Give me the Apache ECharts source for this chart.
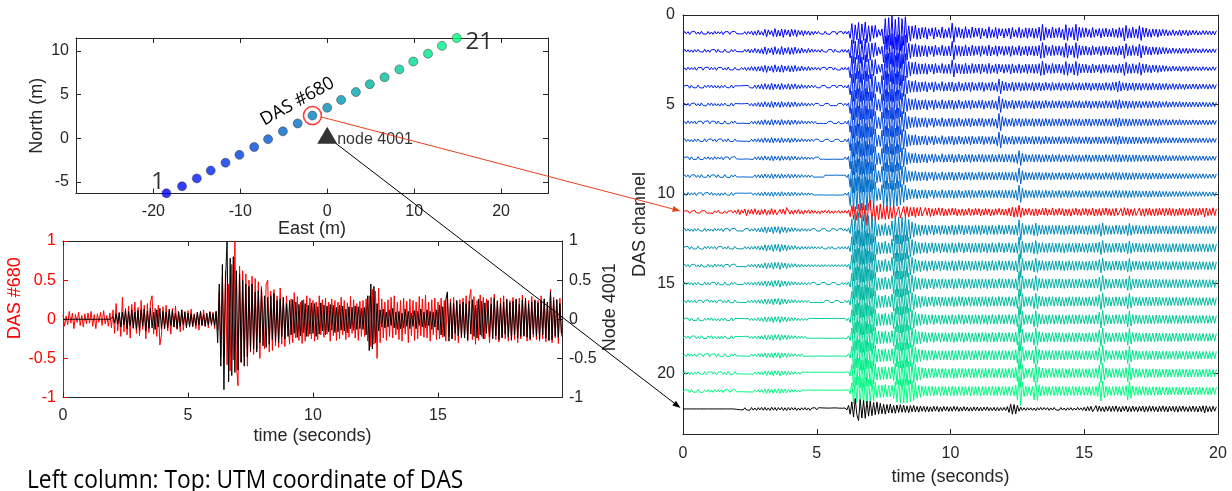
<!DOCTYPE html>
<html><head><meta charset="utf-8">
<script src="https://cdn.jsdelivr.net/npm/echarts@6/dist/echarts.min.js"></script>
<style>html,body{margin:0;padding:0;background:#fff}#c{width:1232px;height:491px}</style>
</head><body><div id="c"></div>
<script>
// ---------- data ----------
const dt = 0.0625; // seconds per sample (16 samples per second, one row per second)
const eastM  = [-18.5,-16.7,-15.0,-13.4,-11.7,-10.1,-8.4,-6.8,-5.1,-3.4,-1.7,0.0,1.6,3.3,4.9,6.6,8.3,9.9,11.6,13.2,14.9];
const northM = [-6.3,-5.5,-4.6,-3.7,-2.8,-1.9,-1.0,-0.1,0.8,1.7,2.6,3.5,4.4,5.3,6.2,7.0,7.9,8.8,9.7,10.6,11.5];
const nodeEN = [0, 0];
const eastTicks = [-20,-10,0,10,20];
const northTicks = [-5,0,5,10];
const timeTicksLeft = [0,5,10,15];
const ampTicks = [-1,-0.5,0,0.5,1];
const channelTicks = [0,5,10,15,20];
const timeTicksRight = [0,5,10,15,20];

// waveforms in hundredths (left panel: of full scale; right panel: of channel spacing)
const das680 = [
6,-9,4,-7,10,-5,8,-12,6,-4,9,-8,5,-10,7,-6,
8,-5,10,-9,6,-12,7,-4,9,-8,11,-6,5,-9,8,-11,
12,-18,20,-15,9,-22,28,-16,14,-20,17,-24,19,-12,22,-18,
15,-21,24,-13,18,-25,20,-17,22,30,-19,14,-22,18,-33,-20,
16,-12,18,-15,11,-19,14,-10,17,-13,9,-16,12,-14,10,-9,
11,-8,13,-10,7,-12,9,-14,10,-8,12,-9,6,-11,10,-8,
9,-12,10,-14,35,-48,55,-40,62,-58,45,-66,70,-52,100,-60,
-85,68,-55,62,-48,58,-60,50,-42,55,-45,52,-38,48,-50,42,
40,-38,45,50,-42,36,-40,38,-34,30,-36,40,-32,28,-35,30,
28,-32,26,-30,34,-24,29,-27,22,-31,25,-28,30,-22,27,-25,
24,-28,22,-26,30,-20,25,-23,27,-19,22,-28,26,-21,24,-27,
22,-25,28,-20,24,-26,21,-23,29,-18,25,-24,20,-27,23,-22,
24,-22,26,-28,30,-35,38,-32,36,-50,40,-30,26,-24,22,-27,
25,-22,28,-24,30,-20,22,-26,24,-28,27,-19,23,-30,26,-21,
24,-27,22,-25,29,-21,26,-23,31,-24,22,-28,25,-20,27,-26,
22,-25,27,-23,24,-28,30,-22,26,-25,28,-27,23,-30,25,-24,
27,-24,30,-28,25,38,-26,29,-32,24,-27,31,-22,28,-25,26,
25,-30,28,-24,32,-26,24,-29,27,-23,30,-25,26,-28,24,-27,
28,-26,24,-30,27,-25,31,-22,26,-28,24,-27,29,-23,25,-26,
24,-28,30,-25,26,-29,22,-27,38,-30,28,-24,25,-31,27,-22];
const node4001 = [
0,0,0,0,0,0,0,0,0,0,0,0,0,0,0,0,
0,0,0,0,0,0,0,0,0,0,0,0,0,0,0,0,
3,-5,7,-6,8,-10,9,-7,11,-12,10,-8,12,-11,9,-13,
11,-14,12,-9,13,-15,10,-12,14,-11,9,-13,12,-10,14,-12,
10,-12,9,-11,13,-8,11,-10,8,-12,10,-9,12,-7,9,-11,
8,-10,7,-9,6,-8,9,-7,10,-8,6,-9,8,-7,9,-6,
7,-8,10,-30,45,-60,70,-90,50,100,-80,78,-72,80,-68,62,
-65,58,-55,50,-60,45,-48,42,-40,45,-38,35,-42,36,-30,38,
-34,30,-36,28,-32,30,-26,33,-28,24,-30,26,-22,28,-25,20,
-22,24,-20,25,-18,22,-23,19,-21,24,-17,20,-22,18,-19,21,
-18,20,-22,16,-19,21,-15,18,-20,17,-16,19,-14,18,-17,15,
-16,18,-14,17,-15,13,-17,16,-12,15,-14,17,-13,16,-12,14,
-13,15,-20,30,-40,45,-38,42,-30,20,-15,12,-10,13,-11,9,
-10,12,-8,14,-11,9,-13,10,-12,8,-11,13,-9,10,-12,8,
-9,11,-12,10,-8,13,-10,9,-11,12,-8,10,-13,9,-10,12,
-14,18,-20,16,-22,25,35,-28,22,-25,20,-18,24,-21,19,-23,
22,-24,20,-26,23,-19,25,-22,18,-24,26,-20,23,-25,21,-18,
24,-22,19,-25,27,-21,23,-26,20,-24,22,-19,25,-23,21,-26,
23,-20,26,-24,19,-22,25,-21,27,-23,20,-25,22,-19,24,-22,
21,-25,23,-20,26,-24,22,-27,35,-26,24,-21,25,-23,20,-18];
const das01 = [
6,-8,5,-7,9,-6,4,-8,7,-5,8,-9,6,-4,7,-8,
7,-5,8,-9,6,-7,5,-8,9,-6,4,-7,8,-6,5,-9,
3,-5,6,-4,5,-7,9,-8,6,-10,12,-9,13,-15,11,-8,
14,-20,22,-17,9,-13,20,-24,21,-15,18,-22,25,-19,12,-16,
22,-20,15,-18,21,-14,10,-13,16,-12,9,-11,13,-8,10,-9,
6,-8,5,-3,7,-9,6,-4,8,-6,3,-7,9,-5,6,-8,
7,-9,6,-10,30,-52,60,-45,38,-58,62,-50,42,-60,55,-40,
48,-40,30,-42,25,-18,15,-22,60,-80,92,-85,70,-95,88,-75,
95,-88,100,-80,70,-90,55,-40,45,-38,30,-42,36,-28,34,-30,
26,-32,35,-24,18,-28,34,-30,22,-18,27,-33,30,-21,25,-29,
30,-55,52,-34,24,-30,28,-22,31,-35,26,-20,29,-33,24,-27,
20,-28,33,-26,18,-22,30,-34,27,-19,24,-30,32,-25,17,-23,
28,-24,19,-27,33,-30,22,-18,26,-31,29,-20,24,-28,30,-26,
22,-27,30,-24,28,-32,44,-48,40,-30,26,-22,29,-33,27,-24,
25,-30,27,-22,38,-46,42,-28,24,-30,40,-48,44,-32,26,-29,
24,-28,22,-19,27,-30,24,-20,18,-25,28,-24,21,-26,23,-20,
22,-26,24,-20,27,-30,24,-28,45,-42,30,-24,28,-32,26,-22,
30,-40,42,-30,24,-27,22,-20,25,-22,18,-21,24,-19,17,-20,
15,-18,16,-12,14,-17,15,-11,13,-16,17,-14,12,-15,16,-13,
12,-14,10,-13,12,-9,11,-13,10,-12,9,-11,12,-10,11,-12];
const das02 = [
5,-9,7,-6,8,-5,9,-7,6,-8,5,-6,7,-9,8,-5,
8,-6,4,-7,9,-8,6,-5,7,-9,6,-4,8,-7,5,-8,
4,-6,5,-3,6,-8,7,-9,11,-8,10,-13,12,-10,14,-12,
18,-22,20,-14,11,-17,22,-23,18,-12,20,-24,22,-16,14,-19,
20,-17,19,-21,15,-12,14,-16,11,-9,12,-13,9,-10,8,-7,
7,-6,8,-9,5,-6,8,-7,4,-6,9,-8,5,-4,7,-8,
8,-7,9,-8,40,-62,70,-55,48,-66,70,-58,50,-68,62,-45,
52,-44,35,-46,28,-20,18,-25,65,-84,95,-88,75,-96,90,-78,
92,-90,98,-82,72,-88,52,-42,42,-36,32,-40,34,-30,32,-28,
28,-30,33,-26,20,-26,32,-31,24,-20,25,-31,29,-23,27,-27,
28,-52,50,-32,26,-28,30,-24,29,-33,28,-22,27,-31,26,-25,
22,-27,31,-28,20,-24,28,-32,29,-21,22,-28,30,-27,19,-24,
26,-25,21,-25,31,-28,24,-20,24,-29,28,-22,22,-27,28,-25,
24,-26,28,-25,27,-30,42,-46,38,-31,25,-23,27,-31,26,-25,
24,-28,26,-23,36,-44,40,-29,23,-28,38,-45,42,-30,25,-27,
23,-26,24,-20,25,-28,23,-21,19,-24,27,-25,22,-25,22,-21,
21,-24,23,-21,26,-28,23,-27,42,-40,28,-25,27,-30,25,-23,
28,-38,40,-29,23,-26,21,-21,24,-22,19,-20,22,-19,18,-19,
16,-17,15,-13,15,-16,14,-12,14,-15,16,-13,13,-14,15,-12,
11,-13,11,-12,11,-10,12,-12,9,-11,10,-10,11,-11,10,-11];
const das03 = [
7,-5,8,-9,6,-7,5,-8,9,-6,4,-7,8,-6,5,-9,
6,-8,5,-7,9,-6,4,-8,7,-5,8,-9,6,-4,7,-8,
5,-4,6,-7,5,-8,10,-7,9,-12,10,-11,14,-12,13,-15,
17,-19,21,-15,12,-16,20,-22,17,-13,19,-21,20,-15,13,-17,
18,-16,17,-19,14,-11,13,-15,10,-9,11,-12,9,-8,7,-8,
6,-7,8,-6,5,-8,7,-6,5,-7,8,-6,6,-5,8,-7,
7,-8,6,-9,50,-72,80,-65,58,-75,78,-66,60,-76,70,-52,
58,-50,40,-52,30,-22,20,-26,62,-80,92,-86,72,-92,86,-74,
88,-86,94,-80,68,-84,50,-40,40,-35,30,-38,32,-28,30,-27,
27,-29,31,-25,19,-25,30,-29,23,-19,24,-29,27,-22,26,-26,
27,-48,46,-30,25,-27,28,-23,28,-31,27,-21,26,-29,25,-24,
21,-26,29,-27,19,-23,27,-30,27,-20,21,-27,28,-26,18,-23,
25,-24,20,-24,29,-27,23,-19,23,-27,26,-21,21,-26,27,-24,
23,-25,26,-24,26,-28,38,-42,35,-29,24,-22,26,-29,25,-24,
23,-26,25,-22,33,-40,37,-27,22,-27,35,-41,38,-28,24,-26,
22,-25,23,-19,24,-27,22,-20,18,-23,26,-24,21,-24,21,-20,
20,-23,22,-20,25,-27,22,-26,38,-36,26,-24,26,-28,24,-22,
26,-34,36,-27,22,-25,20,-20,23,-21,18,-19,21,-18,17,-18,
15,-16,14,-12,14,-15,13,-12,13,-14,15,-12,12,-13,14,-12,
11,-12,10,-11,10,-10,11,-11,9,-10,10,-9,10,-11,9,-10];
const das04 = [
8,-6,4,-7,9,-8,6,-5,7,-9,6,-4,8,-7,5,-8,
5,-9,7,-6,8,-5,9,-7,6,-8,5,-6,7,-9,8,-5,
5,-4,6,-5,4,-6,5,-7,6,-5,8,-9,11,-10,12,-13,
15,-17,14,-12,16,-19,18,-15,12,-14,17,-18,15,-11,13,-16,
16,-14,12,-15,13,-10,11,-12,9,-8,10,-9,7,-8,6,-7,
6,-5,7,-6,5,-7,6,-5,7,-6,5,-6,7,-5,6,-7,
7,-6,8,-10,45,-70,82,-75,68,-85,84,-72,76,-88,80,-66,
78,-70,62,-58,30,-26,40,-62,78,-86,84,-72,82,-90,86,-74,
80,-84,72,-66,55,-60,40,-35,32,-30,28,-34,30,-25,28,-26,
24,-28,30,-22,18,-25,29,-27,20,-17,23,-28,26,-20,24,-25,
23,-26,28,-20,24,-27,22,-18,25,-24,20,-23,27,-25,21,-19,
22,-24,20,-25,27,-21,18,-22,24,-26,22,-20,28,-42,40,-30,
22,-26,24,-19,21,-25,26,-22,18,-23,25,-20,22,-24,21,-18,
20,-23,25,-21,19,-22,24,-20,21,-24,18,-19,22,-23,20,-18,
19,-22,23,-20,17,-21,22,-19,20,-23,18,-17,21,-22,19,-18,
20,-22,18,-21,23,-19,17,-20,22,-21,19,-18,21,-23,18,-19,
22,-24,20,-26,30,-32,25,-22,19,-21,23,-20,18,-21,22,-19,
18,-20,21,-18,16,-19,20,-17,18,-21,17,-16,19,-20,17,-16,
16,-18,17,-15,14,-17,16,-14,15,-17,14,-13,16,-15,13,-14,
14,-15,13,-14,15,-13,12,-14,13,-12,14,-13,12,-13,13,-12];
const das05 = [
6,-8,5,-7,9,-6,4,-8,7,-5,8,-9,6,-4,7,-8,
5,-9,7,-6,8,-5,9,-7,6,-8,5,-6,7,-9,8,-5,
4,-5,5,-4,6,-5,4,-6,7,-6,9,-8,10,-11,12,-12,
14,-16,13,-11,15,-17,17,-14,11,-13,16,-17,14,-10,12,-15,
15,-13,11,-14,12,-9,10,-11,8,-8,9,-8,7,-7,6,-6,
5,-6,6,-5,6,-6,5,-6,6,-5,6,-5,6,-6,5,-6,
6,-7,7,-9,50,-75,86,-80,72,-88,86,-76,80,-90,84,-70,
80,-72,65,-60,32,-28,38,-60,76,-84,82,-70,80,-86,84,-72,
78,-82,70,-64,52,-58,38,-34,31,-29,27,-33,29,-24,27,-25,
23,-27,29,-22,18,-24,28,-26,20,-17,22,-27,25,-20,23,-24,
22,-25,27,-20,23,-26,21,-18,24,-23,20,-22,26,-24,20,-19,
21,-23,20,-24,26,-20,18,-21,23,-25,21,-20,30,-46,44,-32,
21,-25,23,-19,20,-24,25,-21,18,-22,24,-20,21,-23,20,-18,
20,-22,24,-20,19,-21,23,-20,20,-23,18,-18,21,-22,19,-18,
19,-21,22,-19,17,-20,21,-19,19,-22,17,-17,20,-21,18,-17,
19,-21,18,-20,22,-19,17,-19,21,-20,18,-18,20,-22,18,-18,
20,-22,19,-23,26,-27,22,-20,18,-20,22,-19,18,-20,21,-18,
17,-19,20,-17,16,-18,19,-17,17,-20,16,-15,18,-19,16,-15,
15,-17,16,-14,14,-16,15,-14,14,-16,14,-13,15,-14,13,-13,
14,-14,13,-13,14,-13,12,-13,13,-12,13,-12,12,-13,12,-12];
const das06 = [
7,-5,8,-9,6,-7,5,-8,9,-6,4,-7,8,-6,5,-9,
8,-6,4,-7,9,-8,6,-5,7,-9,6,-4,8,-7,5,-8,
5,-4,5,-6,4,-5,6,-5,6,-7,8,-7,10,-9,11,-12,
13,-15,12,-10,14,-16,16,-13,10,-12,15,-16,13,-10,11,-14,
14,-12,10,-13,11,-9,9,-10,8,-7,8,-8,6,-7,6,-6,
6,-5,5,-6,6,-5,6,-6,5,-6,6,-5,6,-6,6,-5,
7,-6,8,-10,55,-78,88,-82,75,-90,88,-78,82,-92,86,-72,
82,-74,66,-62,34,-28,36,-58,74,-82,80,-68,78,-84,82,-70,
76,-80,68,-62,50,-56,37,-33,30,-28,27,-32,28,-24,26,-25,
23,-26,28,-21,17,-24,27,-25,19,-17,22,-26,24,-19,22,-23,
22,-24,26,-20,22,-25,21,-18,23,-22,20,-22,25,-23,20,-19,
21,-23,19,-23,25,-20,18,-21,22,-24,21,-19,32,-50,46,-33,
21,-24,22,-19,20,-23,24,-21,18,-22,23,-20,21,-22,20,-18,
20,-22,23,-20,19,-21,22,-20,20,-22,18,-18,21,-21,19,-18,
19,-21,21,-19,17,-20,21,-18,19,-21,17,-17,20,-20,18,-17,
19,-20,18,-20,21,-19,17,-19,20,-20,18,-18,20,-21,18,-18,
20,-21,19,-22,24,-25,21,-20,18,-20,21,-19,18,-20,20,-18,
17,-19,19,-17,16,-18,19,-17,17,-19,16,-15,18,-19,16,-15,
15,-16,16,-14,14,-16,15,-14,14,-16,14,-13,15,-14,13,-13,
13,-14,13,-13,14,-13,12,-13,13,-12,13,-12,12,-13,12,-12];
const das07 = [
5,-9,7,-6,8,-5,9,-7,6,-8,5,-6,7,-9,8,-5,
6,-8,5,-7,9,-6,4,-8,7,-5,8,-9,6,-4,7,-8,
4,-5,4,-5,5,-4,5,-6,6,-6,7,-8,9,-9,10,-11,
12,-14,11,-10,13,-15,15,-12,10,-11,14,-15,12,-9,10,-13,
13,-11,10,-12,10,-8,9,-10,7,-7,8,-7,6,-7,6,-6,
5,-6,6,-5,6,-6,5,-6,6,-5,6,-6,5,-6,6,-5,
6,-7,8,-10,58,-80,90,-84,78,-92,90,-80,84,-94,88,-74,
84,-76,68,-64,35,-29,35,-56,72,-80,78,-66,76,-82,80,-68,
74,-78,66,-60,49,-55,36,-32,29,-28,26,-31,27,-24,26,-24,
22,-26,27,-21,17,-23,26,-25,19,-16,21,-26,24,-19,22,-22,
21,-24,26,-19,22,-24,20,-18,23,-22,19,-21,25,-23,20,-18,
20,-22,19,-23,24,-20,18,-20,22,-23,20,-19,30,-46,42,-31,
21,-23,22,-19,20,-23,23,-20,18,-21,22,-20,20,-22,20,-18,
19,-22,22,-20,19,-21,22,-19,20,-22,18,-18,20,-21,19,-17,
18,-21,21,-18,17,-20,20,-18,19,-21,17,-16,20,-20,18,-17,
18,-20,18,-19,21,-18,17,-19,20,-19,18,-17,19,-21,17,-18,
19,-21,19,-21,23,-24,20,-20,18,-19,21,-19,18,-19,20,-18,
17,-18,19,-17,16,-18,18,-17,17,-19,16,-15,18,-18,16,-15,
15,-16,15,-14,14,-16,15,-14,14,-15,14,-13,15,-14,13,-13,
13,-14,13,-13,13,-13,12,-13,13,-12,13,-12,12,-12,12,-12];
const das08 = [
8,-6,4,-7,9,-8,6,-5,7,-9,6,-4,8,-7,5,-8,
7,-5,8,-9,6,-7,5,-8,9,-6,4,-7,8,-6,5,-9,
4,-4,5,-4,5,-5,4,-6,5,-6,7,-7,8,-9,10,-10,
11,-13,10,-9,12,-14,14,-11,9,-11,13,-14,11,-9,10,-12,
12,-11,9,-11,10,-8,8,-9,7,-7,7,-7,6,-6,6,-6,
5,-6,6,-5,5,-6,6,-5,6,-5,5,-6,6,-5,5,-6,
6,-7,8,-10,60,-82,92,-86,80,-94,92,-82,86,-95,90,-76,
86,-78,70,-66,36,-30,34,-55,70,-78,76,-64,74,-80,78,-66,
72,-76,64,-58,48,-54,35,-31,28,-27,25,-30,27,-23,25,-23,
22,-25,26,-21,17,-23,25,-24,19,-16,21,-25,23,-19,21,-22,
21,-23,25,-19,21,-24,20,-18,22,-22,19,-21,24,-22,20,-18,
20,-22,19,-22,23,-20,18,-20,22,-23,20,-19,21,-22,19,-21,
22,-23,21,-20,22,-24,23,-21,30,-42,40,-28,21,-22,20,-19,
19,-22,21,-20,19,-21,22,-19,20,-21,18,-18,20,-21,19,-17,
18,-21,21,-18,17,-20,20,-18,19,-21,17,-16,20,-19,18,-17,
18,-20,18,-19,20,-18,17,-19,20,-19,18,-17,19,-20,17,-18,
19,-20,19,-20,21,-21,20,-19,18,-19,20,-19,18,-19,19,-18,
17,-18,18,-17,16,-18,18,-17,17,-18,16,-15,18,-18,16,-15,
15,-16,15,-14,14,-15,15,-14,14,-15,14,-13,15,-14,13,-13,
13,-14,13,-13,13,-13,12,-13,13,-12,13,-12,12,-12,12,-12];
const das09 = [
6,-8,5,-7,9,-6,4,-8,7,-5,8,-9,6,-4,7,-8,
8,-6,4,-7,9,-8,6,-5,7,-9,6,-4,8,-7,5,-8,
4,-4,5,-5,4,-5,5,-5,5,-6,6,-7,8,-8,9,-10,
11,-12,10,-9,11,-13,13,-11,9,-10,12,-13,11,-8,9,-11,
11,-10,9,-10,9,-8,8,-9,7,-6,7,-7,6,-6,6,-5,
5,-6,5,-5,6,-6,5,-5,6,-5,5,-6,5,-5,6,-5,
6,-6,8,-10,62,-84,94,-88,82,-95,92,-84,88,-96,90,-78,
88,-80,72,-66,36,-30,33,-54,68,-76,74,-62,72,-78,76,-64,
70,-74,62,-56,47,-52,34,-30,28,-26,25,-29,26,-23,25,-23,
22,-24,26,-21,17,-22,25,-24,19,-16,21,-24,23,-19,21,-22,
21,-23,24,-19,21,-23,20,-18,22,-22,19,-21,23,-22,20,-18,
20,-22,19,-22,22,-20,18,-20,22,-22,20,-19,21,-22,19,-21,
22,-23,21,-20,22,-23,23,-21,32,-46,43,-30,22,-22,20,-19,
19,-21,21,-20,19,-21,21,-19,20,-21,18,-18,20,-20,19,-17,
18,-20,20,-18,17,-19,20,-18,19,-20,17,-16,19,-19,18,-17,
18,-19,18,-19,20,-18,17,-18,19,-19,18,-17,19,-20,17,-17,
19,-20,18,-20,21,-20,19,-19,18,-19,20,-18,18,-19,19,-18,
17,-18,18,-17,16,-17,18,-17,17,-18,16,-15,17,-18,16,-15,
15,-15,15,-14,14,-15,15,-14,14,-15,14,-13,14,-14,13,-13,
13,-13,13,-13,13,-13,12,-13,13,-12,12,-12,12,-12,12,-12];
const das10 = [
7,-5,8,-9,6,-7,5,-8,9,-6,4,-7,8,-6,5,-9,
5,-9,7,-6,8,-5,9,-7,6,-8,5,-6,7,-9,8,-5,
4,-5,4,-5,5,-4,5,-5,5,-6,6,-6,7,-8,9,-9,
10,-12,10,-9,11,-12,13,-10,9,-10,12,-13,10,-8,9,-11,
11,-10,9,-10,9,-7,8,-9,7,-6,7,-7,6,-6,6,-5,
5,-5,5,-6,5,-5,6,-5,5,-6,5,-5,6,-5,5,-6,
6,-6,7,-10,64,-86,95,-90,84,-96,94,-86,88,-97,92,-80,
90,-82,74,-68,37,-31,32,-52,66,-74,72,-60,70,-76,74,-62,
68,-72,60,-54,46,-50,33,-30,27,-26,24,-28,26,-22,24,-23,
22,-24,25,-21,17,-22,24,-23,19,-16,21,-24,22,-19,21,-21,
21,-22,24,-19,21,-23,20,-18,22,-21,19,-21,23,-22,20,-18,
20,-21,19,-22,22,-20,18,-20,21,-22,20,-19,21,-21,19,-20,
22,-22,21,-20,22,-23,23,-21,34,-50,46,-32,22,-22,20,-19,
19,-21,21,-20,19,-21,21,-19,20,-21,18,-18,20,-20,19,-17,
18,-20,20,-18,17,-19,20,-18,19,-20,17,-16,19,-19,18,-17,
18,-19,18,-18,20,-18,17,-18,19,-19,18,-17,19,-19,17,-17,
19,-19,18,-20,20,-20,19,-19,18,-19,20,-18,18,-19,19,-18,
17,-18,18,-17,16,-17,18,-17,17,-18,16,-15,17,-18,16,-15,
15,-15,15,-14,14,-15,15,-14,14,-15,14,-13,14,-14,13,-13,
13,-13,13,-13,13,-13,12,-13,13,-12,12,-12,12,-12,12,-12];
const das12 = [
5,-9,7,-6,8,-5,9,-7,6,-8,5,-6,7,-9,8,-5,
7,-5,8,-9,6,-7,5,-8,9,-6,4,-7,8,-6,5,-9,
5,-4,6,-5,7,-6,5,-7,8,-6,7,-9,10,-8,11,-12,
13,-16,18,-15,12,-17,20,-18,14,-19,21,-17,13,-15,16,-12,
10,-12,9,-11,8,-7,9,-8,6,-7,8,-6,7,-6,5,-7,
6,-5,7,-6,5,-7,6,-5,7,-6,5,-6,7,-5,6,-7,
6,-7,8,-9,20,-60,85,-90,78,-96,92,-84,90,-95,86,-80,
82,-76,70,-62,36,-30,34,-28,30,-36,32,-26,30,-50,62,-74,
80,-72,78,-70,66,-72,62,-58,50,-44,40,-36,30,-28,32,-26,
25,-28,30,-24,22,-27,29,-26,21,-24,28,-25,23,-26,27,-22,
24,-27,29,-23,25,-28,22,-26,28,-24,21,-25,27,-23,24,-26,
25,-24,27,-26,22,-25,28,-23,24,-27,26,-22,25,-28,23,-25,
26,-24,22,-27,25,-23,27,-26,30,-56,58,-36,27,-25,24,-26,
25,-28,32,-38,34,-26,24,-27,25,-23,26,-25,22,-26,25,-24,
23,-26,25,-24,27,-22,24,-26,23,-25,26,-23,24,-25,22,-24,
24,-22,26,-25,23,-24,25,-26,24,-30,36,-38,28,-25,24,-23,
25,-23,24,-26,22,-25,26,-24,23,-25,32,-36,30,-24,23,-25,
22,-24,23,-22,24,-23,22,-24,23,-22,24,-23,22,-23,21,-22,
21,-22,23,-21,22,-23,21,-22,22,-21,23,-22,21,-22,22,-21,
20,-21,22,-20,21,-22,20,-21,21,-20,22,-21,20,-21,21,-20];
const das13 = [
8,-6,4,-7,9,-8,6,-5,7,-9,6,-4,8,-7,5,-8,
6,-8,5,-7,9,-6,4,-8,7,-5,8,-9,6,-4,7,-8,
4,-5,6,-5,6,-7,6,-6,8,-7,8,-9,9,-9,12,-11,
14,-17,19,-15,13,-18,21,-19,15,-20,22,-18,14,-16,17,-13,
10,-11,9,-12,8,-7,9,-8,7,-6,8,-7,6,-7,6,-6,
6,-6,6,-7,5,-6,7,-6,6,-7,6,-5,6,-6,7,-6,
7,-6,8,-9,22,-62,86,-92,80,-97,94,-86,92,-96,88,-82,
84,-78,72,-64,37,-31,35,-29,31,-37,33,-27,30,-48,60,-72,
78,-72,76,-70,66,-72,62,-58,52,-46,42,-37,31,-29,33,-27,
26,-29,31,-25,23,-28,30,-27,22,-25,29,-26,24,-27,28,-23,
25,-28,30,-24,26,-29,23,-27,29,-25,22,-26,28,-24,25,-27,
26,-25,28,-27,23,-26,29,-24,25,-28,27,-23,26,-29,24,-26,
27,-25,23,-28,26,-24,28,-27,32,-60,62,-38,28,-26,25,-27,
26,-29,34,-40,36,-27,25,-28,26,-24,27,-26,23,-27,26,-25,
24,-27,26,-25,28,-23,25,-27,24,-26,27,-24,25,-26,23,-25,
25,-23,27,-26,24,-25,26,-27,25,-32,38,-40,29,-26,25,-24,
26,-24,25,-27,23,-26,27,-25,24,-26,34,-38,31,-25,24,-26,
23,-25,24,-23,25,-24,23,-25,24,-23,25,-24,23,-24,22,-23,
22,-23,24,-22,23,-24,22,-23,23,-22,24,-23,22,-23,23,-22,
21,-22,23,-21,22,-23,21,-22,22,-21,23,-22,21,-22,22,-21];
const das14 = [
6,-8,5,-7,9,-6,4,-8,7,-5,8,-9,6,-4,7,-8,
7,-5,8,-9,6,-7,5,-8,9,-6,4,-7,8,-6,5,-9,
5,-4,5,-6,5,-6,7,-6,7,-8,7,-8,10,-9,11,-10,
13,-16,18,-14,12,-17,20,-18,14,-19,21,-17,13,-15,16,-12,
10,-11,8,-11,8,-7,8,-8,7,-6,7,-7,6,-6,6,-6,
6,-6,6,-6,6,-6,6,-6,6,-6,6,-6,6,-6,6,-6,
6,-7,8,-9,22,-60,85,-92,80,-96,93,-85,91,-95,87,-82,
83,-77,71,-64,37,-31,34,-29,31,-36,33,-27,30,-46,58,-70,
76,-70,75,-70,66,-72,63,-58,52,-46,42,-37,31,-29,33,-27,
26,-28,31,-25,23,-28,30,-27,22,-25,29,-26,24,-27,28,-23,
25,-28,30,-24,26,-29,23,-27,29,-25,22,-26,28,-24,25,-27,
26,-25,28,-27,23,-26,29,-24,25,-28,27,-23,26,-29,24,-26,
27,-25,23,-28,26,-24,28,-27,34,-64,66,-40,28,-26,25,-27,
26,-29,36,-42,38,-28,25,-28,26,-24,27,-26,23,-27,26,-25,
24,-27,26,-25,28,-23,25,-27,24,-26,27,-24,25,-26,23,-25,
25,-23,27,-26,24,-25,26,-27,25,-34,40,-42,30,-26,25,-24,
26,-24,25,-27,23,-26,27,-25,24,-26,36,-40,32,-25,24,-26,
23,-25,24,-23,25,-24,23,-25,24,-23,25,-24,23,-24,22,-23,
22,-23,24,-22,23,-24,22,-23,23,-22,24,-23,22,-23,23,-22,
21,-22,23,-21,22,-23,21,-22,22,-21,23,-22,21,-22,22,-21];
const das15 = [
5,-9,7,-6,8,-5,9,-7,6,-8,5,-6,7,-9,8,-5,
8,-6,4,-7,9,-8,6,-5,7,-9,6,-4,8,-7,5,-8,
4,-5,5,-5,6,-6,6,-7,7,-7,8,-8,9,-10,10,-11,
12,-15,17,-14,12,-16,19,-17,13,-18,20,-16,12,-14,15,-12,
10,-10,8,-10,8,-7,8,-7,6,-6,7,-6,6,-6,5,-6,
6,-5,6,-6,5,-6,6,-5,6,-6,5,-6,6,-5,6,-6,
6,-6,7,-9,20,-58,84,-90,78,-94,92,-84,90,-94,86,-80,
82,-76,70,-62,38,-32,34,-30,32,-36,32,-28,30,-44,56,-68,
74,-70,76,-70,68,-72,64,-60,54,-48,44,-38,32,-30,33,-28,
26,-28,30,-25,23,-27,30,-26,22,-25,28,-26,24,-26,27,-23,
25,-27,29,-24,26,-28,23,-26,28,-25,22,-26,27,-24,25,-26,
26,-25,27,-26,23,-26,28,-24,25,-27,26,-23,26,-28,24,-26,
26,-25,23,-27,26,-24,27,-27,36,-68,70,-42,29,-26,25,-26,
26,-28,38,-44,40,-29,25,-27,26,-24,27,-26,23,-26,26,-25,
24,-26,26,-25,27,-23,25,-26,24,-26,26,-24,25,-26,23,-24,
25,-23,26,-26,24,-25,26,-26,25,-36,44,-46,32,-26,25,-24,
26,-24,25,-26,23,-26,26,-25,24,-26,38,-43,34,-26,24,-25,
23,-25,24,-23,25,-24,23,-24,24,-23,25,-24,23,-24,22,-23,
22,-23,23,-22,23,-23,22,-23,23,-22,23,-23,22,-23,22,-22,
21,-22,22,-21,22,-22,21,-22,22,-21,22,-22,21,-21,22,-21];
const das16 = [
7,-5,8,-9,6,-7,5,-8,9,-6,4,-7,8,-6,5,-9,
6,-8,5,-7,9,-6,4,-8,7,-5,8,-9,6,-4,7,-8,
4,-4,5,-5,5,-6,6,-6,7,-7,7,-8,9,-9,10,-10,
12,-14,16,-13,11,-15,18,-16,13,-17,19,-15,12,-13,14,-11,
9,-10,8,-9,8,-7,7,-7,6,-6,6,-6,6,-5,5,-6,
5,-6,6,-5,6,-6,5,-6,6,-5,6,-6,5,-6,6,-5,
6,-6,7,-8,20,-56,82,-88,76,-92,90,-82,88,-92,84,-78,
80,-74,68,-60,38,-33,34,-31,33,-36,32,-29,30,-42,54,-66,
72,-70,76,-72,70,-72,66,-62,56,-50,46,-40,34,-30,34,-28,
26,-28,30,-25,23,-27,29,-26,22,-25,28,-25,24,-26,27,-23,
25,-27,29,-24,26,-28,23,-26,28,-25,22,-26,27,-24,25,-26,
26,-25,27,-26,23,-26,28,-24,25,-27,26,-23,26,-28,24,-26,
26,-25,23,-27,26,-24,27,-28,38,-70,72,-44,30,-26,25,-26,
26,-28,40,-46,42,-30,26,-27,26,-24,27,-26,23,-26,26,-25,
24,-26,26,-25,27,-23,25,-26,24,-26,26,-24,25,-26,23,-24,
25,-23,26,-26,24,-25,26,-26,26,-38,46,-48,33,-26,25,-24,
26,-24,25,-26,23,-26,26,-25,24,-27,40,-45,35,-26,24,-25,
23,-25,24,-23,25,-24,23,-24,24,-23,25,-24,23,-24,22,-23,
22,-23,23,-22,23,-23,22,-23,23,-22,23,-23,22,-23,22,-22,
21,-22,22,-21,22,-22,21,-22,22,-21,22,-22,21,-21,22,-21];
const das17 = [
8,-6,4,-7,9,-8,6,-5,7,-9,6,-4,8,-7,5,-8,
5,-9,7,-6,8,-5,9,-7,6,-8,5,-6,7,-9,8,-5,
4,-5,4,-5,5,-5,6,-6,6,-7,7,-7,8,-9,9,-10,
11,-14,15,-13,11,-15,17,-15,12,-16,18,-15,11,-13,14,-11,
9,-10,8,-9,7,-7,7,-7,6,-6,6,-6,5,-6,5,-5,
5,-5,6,-5,5,-6,5,-5,6,-5,5,-6,5,-5,6,-5,
6,-6,7,-8,18,-54,80,-86,74,-90,88,-80,86,-90,82,-76,
78,-72,66,-58,38,-33,35,-31,33,-36,33,-29,30,-40,52,-64,
70,-70,76,-72,70,-72,66,-64,58,-52,48,-42,36,-31,34,-29,
26,-28,30,-25,23,-27,29,-26,22,-25,28,-25,24,-26,27,-23,
25,-27,29,-24,26,-28,23,-26,28,-25,22,-26,27,-24,25,-26,
26,-25,27,-26,23,-26,28,-24,25,-27,26,-23,26,-28,24,-26,
26,-25,23,-27,26,-24,27,-28,40,-72,74,-45,30,-26,25,-26,
26,-28,42,-48,44,-31,26,-27,26,-24,27,-26,23,-26,26,-25,
24,-26,26,-25,27,-23,25,-26,24,-26,26,-24,25,-26,23,-24,
25,-23,26,-26,24,-25,26,-26,26,-40,48,-50,34,-27,25,-24,
26,-24,25,-26,23,-26,26,-25,24,-28,42,-47,36,-27,24,-25,
23,-25,24,-23,25,-24,23,-24,24,-23,25,-24,23,-24,22,-23,
22,-23,23,-22,23,-23,22,-23,23,-22,23,-23,22,-23,22,-22,
21,-22,22,-21,22,-22,21,-22,22,-21,22,-22,21,-21,22,-21];
const das18 = [
6,-8,5,-7,9,-6,4,-8,7,-5,8,-9,6,-4,7,-8,
5,-9,7,-6,8,-5,9,-7,6,-8,5,-6,7,-9,8,-5,
4,-4,5,-4,5,-5,5,-6,6,-6,7,-7,8,-8,9,-9,
11,-13,15,-12,10,-14,17,-15,11,-15,17,-14,11,-12,13,-11,
9,-9,8,-9,7,-7,7,-7,6,-6,6,-5,5,-6,5,-5,
5,-5,5,-6,5,-5,6,-5,5,-5,6,-5,5,-6,5,-5,
5,-6,7,-8,18,-52,78,-84,72,-88,86,-78,84,-88,80,-74,
76,-70,64,-56,38,-34,35,-32,34,-36,34,-30,31,-38,48,-60,
68,-68,74,-72,70,-72,68,-66,60,-54,50,-44,38,-32,35,-29,
26,-28,30,-25,23,-27,29,-26,22,-25,28,-25,24,-26,27,-23,
25,-27,29,-24,26,-28,23,-26,28,-25,22,-26,27,-24,25,-26,
26,-25,27,-26,23,-26,28,-24,25,-27,26,-23,26,-28,24,-26,
26,-25,23,-27,26,-24,27,-29,42,-74,76,-46,31,-26,25,-26,
26,-28,44,-50,46,-32,26,-27,26,-24,27,-26,23,-26,26,-25,
24,-26,26,-25,27,-23,25,-26,24,-26,26,-24,25,-26,23,-24,
25,-23,26,-26,24,-25,26,-26,27,-42,50,-52,35,-27,25,-24,
26,-24,25,-26,23,-26,26,-25,24,-28,44,-49,37,-27,24,-25,
23,-25,24,-23,25,-24,23,-24,24,-23,25,-24,23,-24,22,-23,
22,-23,23,-22,23,-23,22,-23,23,-22,23,-23,22,-23,22,-22,
21,-22,22,-21,22,-22,21,-22,22,-21,22,-22,21,-21,22,-21];
const das19 = [
7,-5,8,-9,6,-7,5,-8,9,-6,4,-7,8,-6,5,-9,
8,-6,4,-7,9,-8,6,-5,7,-9,6,-4,8,-7,5,-8,
4,-4,4,-5,5,-5,5,-5,6,-6,6,-7,7,-8,8,-9,
10,-12,14,-12,10,-13,16,-14,11,-14,16,-13,10,-12,12,-10,
8,-9,7,-8,7,-6,7,-7,6,-5,6,-5,5,-5,5,-5,
5,-5,5,-5,5,-6,5,-5,5,-5,5,-6,5,-5,5,-5,
5,-6,6,-8,16,-50,76,-82,70,-86,84,-76,82,-86,78,-72,
74,-68,62,-54,38,-34,36,-32,34,-36,34,-30,32,-36,46,-58,
66,-68,72,-72,70,-72,68,-66,62,-56,52,-46,40,-33,35,-30,
27,-28,29,-26,24,-27,28,-26,23,-25,27,-25,25,-26,26,-24,
26,-27,28,-25,26,-27,24,-26,27,-25,23,-26,26,-25,25,-26,
25,-26,27,-25,24,-26,27,-25,25,-26,26,-24,25,-27,25,-25,
26,-25,24,-26,26,-25,27,-30,44,-76,78,-47,31,-27,25,-26,
27,-28,46,-52,48,-33,27,-27,25,-25,26,-26,24,-26,25,-25,
25,-25,25,-26,26,-24,25,-25,24,-26,25,-25,25,-25,24,-24,
24,-24,25,-25,25,-24,25,-26,28,-44,52,-54,36,-28,25,-24,
25,-25,24,-25,24,-25,25,-25,25,-29,46,-51,38,-28,24,-24,
24,-24,23,-24,24,-24,24,-23,23,-24,24,-23,24,-23,23,-23,
23,-22,22,-23,22,-22,23,-22,22,-23,22,-22,23,-22,22,-22,
22,-21,21,-22,21,-21,22,-21,21,-22,21,-21,22,-21,21,-21];
const das20 = [
5,-9,7,-6,8,-5,9,-7,6,-8,5,-6,7,-9,8,-5,
6,-8,5,-7,9,-6,4,-8,7,-5,8,-9,6,-4,7,-8,
4,-4,4,-4,5,-5,5,-5,5,-6,6,-6,7,-7,8,-8,
10,-12,13,-11,9,-13,15,-13,10,-13,15,-12,10,-11,12,-10,
8,-8,7,-8,6,-6,6,-6,5,-5,6,-5,5,-5,5,-5,
5,-5,5,-5,5,-5,5,-5,5,-5,5,-5,5,-5,5,-5,
5,-5,6,-7,16,-48,74,-80,68,-84,82,-74,80,-84,76,-70,
72,-66,60,-52,38,-34,36,-33,35,-36,34,-31,32,-35,44,-56,
64,-66,70,-70,70,-72,68,-66,62,-58,54,-48,42,-34,36,-30,
27,-28,29,-26,24,-27,28,-26,23,-25,27,-25,25,-26,26,-24,
26,-27,28,-25,26,-27,24,-26,27,-25,23,-26,26,-25,25,-26,
25,-26,27,-25,24,-26,27,-25,25,-26,26,-24,25,-27,25,-25,
26,-25,24,-26,26,-25,27,-31,46,-78,80,-48,32,-27,25,-26,
27,-28,48,-54,50,-34,27,-27,25,-25,26,-26,24,-26,25,-25,
25,-25,25,-26,26,-24,25,-25,24,-26,25,-25,25,-25,24,-24,
24,-24,25,-25,25,-24,25,-26,29,-46,54,-55,37,-28,25,-24,
25,-25,24,-25,24,-25,25,-25,25,-30,48,-53,39,-28,24,-24,
24,-24,23,-24,24,-24,24,-23,23,-24,24,-23,24,-23,23,-23,
23,-22,22,-23,22,-22,23,-22,22,-23,22,-22,23,-22,22,-22,
22,-21,21,-22,21,-21,22,-21,21,-22,21,-21,22,-21,21,-21];
const das21 = [
8,-6,4,-7,9,-8,6,-5,7,-9,6,-4,8,-7,5,-8,
7,-5,8,-9,6,-7,5,-8,9,-6,4,-7,8,-6,5,-9,
4,-4,4,-4,4,-5,5,-5,5,-5,6,-6,6,-7,7,-8,
9,-11,13,-11,9,-12,14,-12,10,-12,14,-12,9,-11,11,-9,
8,-8,7,-7,6,-6,6,-6,5,-5,5,-5,5,-5,5,-4,
5,-5,5,-5,4,-5,5,-5,5,-4,5,-5,5,-5,4,-5,
5,-5,6,-7,15,-46,70,-76,64,-80,78,-70,76,-80,72,-66,
68,-62,56,-50,38,-34,36,-33,35,-36,34,-31,32,-34,42,-54,
62,-64,68,-68,68,-70,66,-64,60,-56,52,-46,40,-33,35,-29,
26,-27,28,-26,24,-26,27,-25,23,-25,26,-25,24,-25,26,-24,
25,-26,27,-25,25,-26,24,-25,26,-25,23,-25,26,-24,24,-25,
25,-25,26,-25,24,-25,26,-25,24,-26,25,-24,25,-26,24,-25,
25,-25,24,-25,25,-25,26,-32,48,-80,82,-50,32,-27,25,-25,
26,-28,50,-55,52,-35,27,-27,25,-25,26,-25,24,-25,25,-25,
24,-25,25,-25,25,-24,25,-25,24,-25,25,-24,24,-25,24,-24,
24,-24,24,-25,25,-24,25,-26,30,-48,56,-56,38,-28,25,-24,
25,-24,24,-25,24,-25,25,-25,25,-31,50,-55,40,-28,24,-24,
24,-24,23,-24,24,-23,24,-23,23,-24,24,-23,23,-23,23,-23,
22,-22,22,-23,22,-22,22,-22,22,-22,22,-22,22,-22,22,-22,
21,-21,21,-22,21,-21,21,-21,21,-21,21,-21,21,-21,21,-21];
const dasTraces = [das01,das02,das03,das04,das05,das06,das07,das08,das09,das10,das680,das12,das13,das14,das15,das16,das17,das18,das19,das20,das21];

// ---------- styling helpers ----------
const AX = '#262626';
const FONT = '"Liberation Sans", Arial, Helvetica, sans-serif';
const RED = '#ff0000';
function winter(k){ const f=(k-1)/20; return 'rgb(0,'+Math.round(255*f)+','+Math.round(255*(1-0.5*f))+')'; }
function fmt(list){ return v => list.some(t => Math.abs(t - v) < 1e-9) ? String(v) : ''; }
function axis(o){
  const c = o.color || AX;
  const a = {type:'value', gridIndex:o.grid, position:o.pos, min:o.min, max:o.max, inverse:!!o.inverse,
    splitLine:{show:false},
    axisLine:{show:true, onZero:false, lineStyle:{color:c, width:1}},
    axisTick:{show:true, inside:true, length:5, lineStyle:{color:c, width:1}},
    axisLabel:{show:!!o.ticks, color:c, fontSize:16, fontFamily:FONT, margin:o.margin||8, formatter:o.ticks?fmt(o.ticks):undefined}
  };
  if (o.interval != null) a.interval = o.interval;
  if (o.nice != null) { a.splitNumber = o.split; a.minInterval = o.nice; a.maxInterval = o.nice; }
  if (o.name) { a.name=o.name; a.nameLocation='middle'; a.nameGap=o.gap; a.nameRotate=o.rot||0;
    a.nameTextStyle={color:c, fontSize:18, fontFamily:FONT, padding:o.pad||0}; }
  return a;
}

const g0x = {grid:0, min:-28.9, max:25.4, split:5, nice:10};
const g0y = {grid:0, min:-6.33, max:11.5, split:3, nice:5};
const xAxes = [
  axis(Object.assign({pos:'bottom', ticks:eastTicks, margin:10, name:'East (m)', gap:24}, g0x)),
  axis(Object.assign({pos:'top'}, g0x)),
  axis({grid:1, pos:'bottom', min:0, max:19.96, interval:5, ticks:timeTicksLeft, margin:10, name:'time (seconds)', gap:30}),
  axis({grid:1, pos:'top', min:0, max:19.96, interval:5}),
  axis({grid:2, pos:'bottom', min:0, max:20, interval:5, ticks:timeTicksRight, margin:12, name:'time (seconds)', gap:34}),
  axis({grid:2, pos:'top', min:0, max:20, interval:5})
];
const yAxes = [
  axis(Object.assign({pos:'left', ticks:northTicks, margin:7, name:'North (m)', gap:30, rot:90}, g0y)),
  axis(Object.assign({pos:'right'}, g0y)),
  axis({grid:1, pos:'left', min:-1, max:1, interval:0.5, ticks:ampTicks, margin:7, color:RED, name:'DAS #680', gap:28, rot:90, pad:[0,0,0,42]}),
  axis({grid:1, pos:'right', min:-1, max:1, interval:0.5, ticks:ampTicks, margin:7, name:'Node 4001', gap:39, rot:90, pad:[0,0,0,24]}),
  axis({grid:2, pos:'left', min:0, max:23.4, interval:5, inverse:true, ticks:channelTicks, margin:8, name:'DAS channel', gap:34, rot:90}),
  axis({grid:2, pos:'right', min:0, max:23.4, interval:5, inverse:true})
];

const bigLbl = {fontSize:24, fontFamily:'"Open Sans", sans-serif', color:'#000'};
const dasPts = eastM.map((e,i) => {
  const item = {value:[e, northM[i]], itemStyle:{color:winter(i+1), borderColor:'#333', borderWidth:0.6}};
  if (i === 0) item.label = Object.assign({show:true, formatter:'1', position:'left', distance:-3, offset:[0,-11]}, bigLbl);
  if (i === eastM.length-1) item.label = Object.assign({show:true, formatter:'21', position:'right', distance:4, offset:[0,4]}, bigLbl);
  return item;
});

const series = [
  {type:'scatter', xAxisIndex:0, yAxisIndex:0, symbolSize:9, data:dasPts, z:3},
  {type:'scatter', xAxisIndex:0, yAxisIndex:0, symbol:'circle', symbolSize:18, z:4,
   itemStyle:{color:'rgba(0,0,0,0)', borderColor:RED, borderWidth:1.5}, data:[[eastM[10], northM[10]]]},
  {type:'scatter', xAxisIndex:0, yAxisIndex:0, symbol:'triangle', symbolSize:[20,17], symbolOffset:[0,-3], z:4,
   itemStyle:{color:'#000'}, data:[nodeEN],
   label:{show:true, formatter:'node 4001', position:'right', distance:0, offset:[0,4], color:'#000', fontSize:16, fontFamily:FONT}},
  {type:'line', xAxisIndex:2, yAxisIndex:2, showSymbol:false, symbol:'none', lineStyle:{color:RED, width:1}, z:2,
   data:das680.map((v,i) => [i*dt, v/100])},
  {type:'line', xAxisIndex:2, yAxisIndex:3, showSymbol:false, symbol:'none', lineStyle:{color:'#000', width:1}, z:3,
   data:node4001.map((v,i) => [i*dt, v/100])}
];
dasTraces.forEach((tr,k) => {
  const ch = k+1, isRed = (ch === 11), sc = isRed ? 0.0075 : 0.01;
  series.push({type:'line', xAxisIndex:4, yAxisIndex:4, showSymbol:false, symbol:'none', z:2,
    lineStyle:{color:isRed ? RED : winter(ch), width:1},
    data:tr.map((v,i) => [i*dt, ch + v*sc])});
});
series.push({type:'line', xAxisIndex:4, yAxisIndex:4, showSymbol:false, symbol:'none', z:2,
  lineStyle:{color:'#000', width:1}, data:node4001.map((v,i) => [i*dt, 22 + v*0.0065])});

const chart = echarts.init(document.getElementById('c'), null, {renderer:'canvas'});
chart.setOption({
  animation:false, backgroundColor:'#fff',
  grid:[
    {left:76, top:38, width:472, height:155.5},
    {left:63, top:241, width:499, height:156.5},
    {left:683, top:15, width:535, height:422}
  ],
  xAxis:xAxes, yAxis:yAxes, series:series
});

// annotations (arrows and labels) positioned through the chart's own scales
function arrow(p0, p1, color){
  const dx=p1[0]-p0[0], dy=p1[1]-p0[1], L=Math.hypot(dx,dy), ux=dx/L, uy=dy/L, hl=8, hw=3;
  const bx=p1[0]-ux*hl, by=p1[1]-uy*hl;
  return [
    {type:'line', silent:true, z:100, shape:{x1:p0[0], y1:p0[1], x2:bx, y2:by}, style:{stroke:color, lineWidth:1}},
    {type:'polygon', silent:true, z:100, shape:{points:[[p1[0],p1[1]],[bx-uy*hw,by+ux*hw],[bx+uy*hw,by-ux*hw]]}, style:{fill:color}}
  ];
}
const pC = chart.convertToPixel({seriesIndex:1}, [eastM[10], northM[10]]);
const pN = chart.convertToPixel({seriesIndex:2}, nodeEN);
const pR = chart.convertToPixel({seriesIndex:15}, [0, 11]);
const pB = chart.convertToPixel({seriesIndex:26}, [0, 22]);
const els = [].concat(
  arrow([pC[0]+9.5, pC[1]+1.5], [pR[0]-2.5, pR[1]-1], '#e8401c'),
  arrow([pN[0]+8.5, pN[1]+5], [pB[0]-2.5, pB[1]-1], '#000'),
  [
    {type:'text', silent:true, z:100, x:pC[0]-15, y:pC[1]-14, rotation:29*Math.PI/180,
     style:{text:'DAS #680', font:'18px "Open Sans", sans-serif', fill:'#000', align:'center', verticalAlign:'middle'}},
    {type:'text', silent:true, z:100, x:27, y:481, scaleX:0.91,
     style:{text:'Left column: Top: UTM coordinate of DAS', font:'25px "Open Sans", sans-serif', fill:'#000', align:'left', verticalAlign:'middle'}}
  ]
);
chart.setOption({graphic:{elements:els}});
</script></body></html>
